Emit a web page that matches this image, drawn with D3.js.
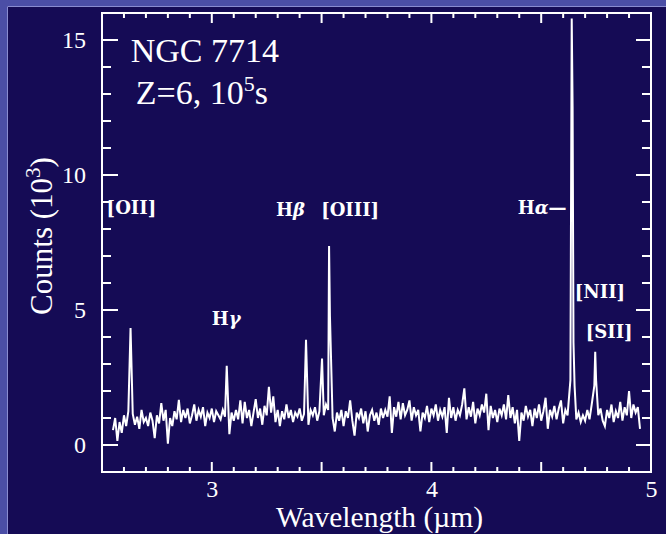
<!DOCTYPE html>
<html>
<head>
<meta charset="utf-8">
<script src="https://cdn.jsdelivr.net/npm/d3@7"></script>
<style>
  html, body { margin: 0; padding: 0; background: #150b55; }
  svg { display: block; }
</style>
</head>
<body>
<svg id="chart" width="666" height="534"></svg>
<script>
// spectrum sampled every 0.01 um starting at 2.55 um (counts in 10^3)
const lambdaStart = 2.55;
const lambdaStep = 0.01;
const counts = [
    0.55, 1.0, 0.15, 0.85, 0.45, 1.1, 0.7, 1.25, 0.9, 1.15,
    0.75, 1.05, 0.6, 1.3, 0.85, 1.0, 0.7, 1.2, 0.9, 0.25,
    1.1, 0.8, 1.55, 0.9, 1.3, 0.05, 1.0, 0.7, 1.25, 0.95,
    1.67, 0.85, 1.3, 1.0, 1.35, 0.8, 1.1, 1.5, 0.9, 1.3,
    1.05, 1.4, 0.7, 1.2, 1.0, 1.35, 0.85, 1.25, 1.1, 0.95,
    1.3, 1.05, 1.1, 0.4, 1.2, 0.9, 1.3, 0.95, 1.65, 0.8,
    1.6, 1.0, 1.3, 0.7, 1.2, 1.7, 1.0, 1.35, 0.75, 1.45,
    1.1, 2.15, 1.2, 1.8, 0.85, 1.3, 0.7, 1.25, 0.95, 1.5,
    1.0, 1.3, 0.85, 1.2, 1.05, 1.35, 0.9, 1.15, 1.2, 0.75,
    1.3, 1.1, 1.4, 0.9, 1.25, 1.35, 1.1, 1.5, 1.3, 1.6,
    1.0, 0.5, 1.2, 0.9, 1.3, 0.7, 1.25, 1.0, 1.65, 0.9,
    0.35, 1.2, 1.0, 1.35, 0.8, 1.25, 0.5, 1.1, 1.3, 0.9,
    1.2, 0.75, 1.35, 1.0, 1.3, 1.05, 1.8, 0.45, 1.4, 1.05,
    1.6, 0.95, 1.55, 1.1, 1.3, 1.65, 0.9, 1.4, 1.1, 1.3,
    0.5, 1.2, 1.0, 1.45, 0.85, 1.35, 1.1, 1.5, 0.9, 1.3,
    1.05, 1.4, 0.45, 1.75, 1.0, 1.4, 0.9, 1.3, 1.1, 1.5,
    2.1, 0.95, 1.4, 1.05, 1.6, 0.8, 1.35, 1.1, 1.5, 1.2,
    1.9, 0.55, 1.45, 1.0, 1.3, 0.85, 1.35, 1.1, 1.5, 0.95,
    1.85, 1.0, 1.4, 0.8, 1.3, 0.15, 1.2, 0.9, 1.45, 1.05,
    1.3, 0.7, 1.35, 1.0, 1.5, 0.9, 1.25, 1.75, 0.6, 1.3,
    1.05, 1.45, 0.95, 1.35, 1.65, 0.8, 1.3, 1.1, 1.45, 1.0,
    1.0, 0.95, 1.2, 0.85, 1.1, 0.9, 1.3, 0.95, 1.5, 1.8,
    1.9, 1.1, 1.35, 0.9, 0.7, 1.3, 1.0, 1.5, 0.85, 1.25,
    1.0, 1.6, 0.9, 1.4, 1.1, 2.0, 1.0, 1.5, 1.2, 1.4,
    0.6
];

// narrow emission line samples (um, counts)
const lineWavelengths = [2.630, 3.068, 3.429, 3.502, 3.534, 3.538, 4.633, 4.639, 4.643, 4.647, 4.652, 4.742, 4.746, 4.750];
const linePeaks = [4.33, 2.93, 3.9, 3.2, 7.37, 4.78, 2.4, 15.8, 12.5, 3.8, 2.2, 2.2, 3.45, 2.4];

// line identifications
const labelTexts = [["[OII]"], ["H", "\u03b3"], ["H", "\u03b2"], ["[OIII]"], ["H", "\u03b1", "\u2014"], ["[NII]"], ["[SII]"]];
const labelWavelengths = [2.521, 3.0, 3.292, 3.498, 4.393, 4.653, 4.703];
const labelCounts = [8.55, 4.45, 8.5, 8.5, 8.55, 5.45, 3.95];

const xDomain = [2.5, 5];
const yDomain = [-1, 16];
const xLabels = [3, 4, 5];
const yLabels = [0, 5, 10, 15];

const svg = d3.select("#chart");
const W = 666, H = 534;
const margin = { left: 102, right: 15, top: 13, bottom: 62 };

// light frame on the left and top like the slide
svg.append("rect").attr("width", W).attr("height", H).attr("fill", "#150b55");
svg.append("rect").attr("x", 0).attr("y", 0).attr("width", W).attr("height", 6).attr("fill", "#4b4ea6");
svg.append("rect").attr("x", 0).attr("y", 0).attr("width", 7).attr("height", H).attr("fill", "#4b4ea6");
svg.append("path").attr("d", `M7.5,${H}V6.5H${W}`).attr("fill", "none").attr("stroke", "#8a8cd0").attr("stroke-width", 1);

const x = d3.scaleLinear().domain(xDomain).range([margin.left, W - margin.right]);
const y = d3.scaleLinear().domain(yDomain).range([H - margin.bottom, margin.top]);

const serif = "'Liberation Serif', 'Times New Roman', serif";
const slab = "'DejaVu Serif', serif";

const xTicks = d3.range(25, 51).map((d) => d / 10);
const yTicks = d3.range(-1, 17);
const isXMajor = (d) => Math.abs(d * 2 - Math.round(d * 2)) < 1e-6;
const isYMajor = (d) => d % 5 === 0;

const bottomY = H - margin.bottom;
const rightX = W - margin.right;

// tick marks, all pointing into the plot, as one path
const tickPath = d3.path();
xTicks.forEach((d) => {
    const len = isXMajor(d) ? 10 : 5;
    tickPath.moveTo(x(d), bottomY); tickPath.lineTo(x(d), bottomY - len);
    tickPath.moveTo(x(d), margin.top); tickPath.lineTo(x(d), margin.top + len);
});
yTicks.forEach((d) => {
    tickPath.moveTo(margin.left, y(d)); tickPath.lineTo(margin.left + (isYMajor(d) ? 16 : 9), y(d));
    tickPath.moveTo(rightX, y(d)); tickPath.lineTo(rightX - (isYMajor(d) ? 15 : 9), y(d));
});
svg.append("path")
    .attr("d", tickPath.toString())
    .attr("fill", "none")
    .attr("stroke", "#fff")
    .attr("stroke-width", 2);

// tick labels through d3 axes
const styleAxis = (g) => {
    g.select(".domain").remove();
    g.selectAll(".tick line").remove();
    g.selectAll(".tick text").attr("fill", "#fff").style("font-family", serif).style("font-size", "24px");
};
svg.append("g").attr("transform", `translate(0,${bottomY})`)
    .call(d3.axisBottom(x).tickValues(xLabels).tickSize(0).tickPadding(8).tickFormat(d3.format("d")))
    .call(styleAxis);
svg.append("g").attr("transform", `translate(${margin.left},0)`)
    .call(d3.axisLeft(y).tickValues(yLabels).tickSize(0).tickPadding(16).tickFormat(d3.format("d")))
    .call(styleAxis);

svg.append("rect")
    .attr("x", margin.left).attr("y", margin.top)
    .attr("width", rightX - margin.left).attr("height", bottomY - margin.top)
    .attr("fill", "none").attr("stroke", "#fff").attr("stroke-width", 2);

// merge continuum samples with the emission line samples
const lineSamples = lineWavelengths.map((w, i) => ({ w, c: linePeaks[i] }));
const continuum = counts
    .map((c, i) => ({ w: lambdaStart + i * lambdaStep, c }))
    .filter((p) => !lineWavelengths.some((w) => Math.abs(w - p.w) < 0.0035));
const spectrum = continuum.concat(lineSamples).sort((a, b) => a.w - b.w);

const line = d3.line().x((d) => x(d.w)).y((d) => y(d.c));
svg.append("path")
    .datum(spectrum)
    .attr("d", line)
    .attr("fill", "none")
    .attr("stroke", "#fff")
    .attr("stroke-width", 2)
    .attr("stroke-linejoin", "miter");

// line ids
labelTexts.forEach((parts, i) => {
    const t = svg.append("text")
        .attr("x", x(labelWavelengths[i]))
        .attr("y", y(labelCounts[i]))
        .attr("fill", "#fff")
        .style("font-family", slab)
        .style("font-weight", "bold")
        .style("font-size", "18px");
    parts.forEach((p, j) => {
        t.append("tspan").text(p).style("font-style", j === 1 ? "italic" : "normal");
    });
});

// title block
svg.append("text")
    .attr("x", x(2.631)).attr("y", y(14.2))
    .attr("fill", "#fff").style("font-family", serif).style("font-size", "34px")
    .text("NGC 7714");
const sub = svg.append("text")
    .attr("x", x(2.654)).attr("y", y(12.63))
    .attr("fill", "#fff").style("font-family", serif).style("font-size", "34px");
sub.append("tspan").text("Z=6, 10");
sub.append("tspan").text("5").attr("dy", -13).style("font-size", "22px");
sub.append("tspan").text("s").attr("dy", 13);

// axis titles
svg.append("text")
    .attr("x", (margin.left + rightX) / 2 + 3).attr("y", 527)
    .attr("text-anchor", "middle")
    .attr("fill", "#fff").style("font-family", serif).style("font-size", "29.5px")
    .text("Wavelength (\u00b5m)");

const yTitle = svg.append("text")
    .attr("transform", `translate(52,236) rotate(-90)`)
    .attr("text-anchor", "middle")
    .attr("fill", "#fff").style("font-family", serif).style("font-size", "31px");
yTitle.append("tspan").text("Counts (10");
yTitle.append("tspan").text("3").attr("dy", -12).style("font-size", "21px");
yTitle.append("tspan").text(")").attr("dy", 12);
</script>
</body>
</html>
